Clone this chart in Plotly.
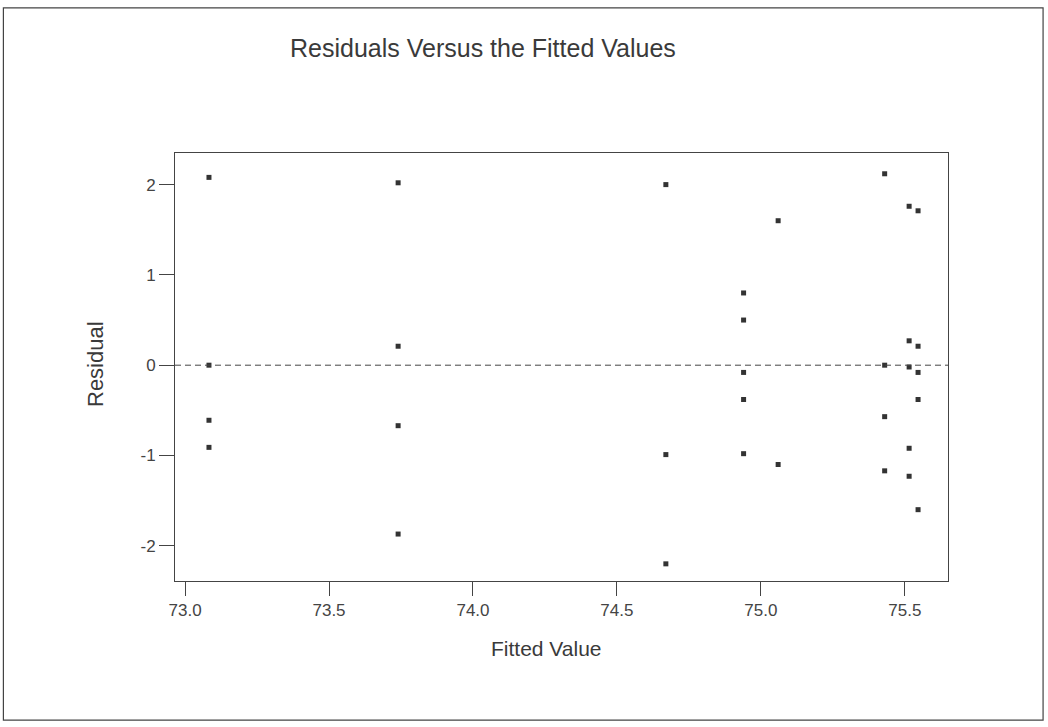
import plotly.graph_objects as go

fitted = [73.083, 73.083, 73.083, 73.083,
          73.74, 73.74, 73.74, 73.74,
          74.67, 74.67, 74.67,
          74.94, 74.94, 74.94, 74.94, 74.94,
          75.06, 75.06,
          75.43, 75.43, 75.43, 75.43,
          75.515, 75.515, 75.515, 75.515, 75.515,
          75.546, 75.546, 75.546, 75.546, 75.546]
residual = [2.08, 0.0, -0.61, -0.91,
            2.02, 0.21, -0.67, -1.87,
            2.0, -0.99, -2.2,
            0.8, 0.5, -0.08, -0.38, -0.98,
            1.6, -1.1,
            2.12, 0.0, -0.57, -1.17,
            1.76, 0.27, -0.02, -0.92, -1.23,
            1.71, 0.21, -0.08, -0.38, -1.6]

x_ticks = [73.0, 73.5, 74.0, 74.5, 75.0, 75.5]
x_labels = ["73.0", "73.5", "74.0", "74.5", "75.0", "75.5"]
y_ticks = [-2, -1, 0, 1, 2]
y_labels = ["-2", "-1", "0", "1", "2"]

FONT = "Liberation Sans, Arial, sans-serif"

fig = go.Figure()
fig.add_trace(go.Scatter(
    x=fitted, y=residual, mode="markers",
    marker=dict(symbol="square", size=5, color="#333333"),
    showlegend=False, hoverinfo="x+y"))

# reference line at zero
fig.add_shape(type="line", xref="paper", yref="y", x0=0, x1=1, y0=0, y1=0,
              line=dict(color="#444444", width=1, dash="6px,4px"))

# outer frame
fig.add_shape(type="rect", xref="paper", yref="paper",
              x0=-0.222, x1=1.123, y0=-0.325, y1=1.339,
              line=dict(color="#444444", width=1.2))

fig.add_annotation(text="Residuals Versus the Fitted Values", xref="paper", yref="paper",
                   x=(483 - 175) / 773, y=(581 - 48) / 428, showarrow=False,
                   xanchor="center", yanchor="middle",
                   font=dict(family=FONT, size=25, color="#3a3a3a"))
fig.add_annotation(text="Fitted Value", xref="paper", yref="paper",
                   x=(546 - 175) / 773, y=(581 - 648) / 428, showarrow=False,
                   xanchor="center", yanchor="middle",
                   font=dict(family=FONT, size=21, color="#3a3a3a"))
fig.add_annotation(text="Residual", xref="paper", yref="paper",
                   x=(95 - 175) / 773, y=(581 - 364) / 428, showarrow=False,
                   xanchor="center", yanchor="middle",
                   textangle=-90,
                   font=dict(family=FONT, size=22, color="#3a3a3a"))

fig.update_xaxes(range=[72.965, 75.65], tickvals=x_ticks, ticktext=x_labels,
                 ticks="outside", ticklen=14, tickcolor="#444444", tickwidth=1,
                 showgrid=False, zeroline=False, showline=True, linecolor="#444444",
                 linewidth=1, mirror=True,
                 tickfont=dict(family=FONT, size=17, color="#444444"))
fig.update_yaxes(range=[-2.39, 2.35], tickvals=y_ticks, ticktext=y_labels,
                 ticks="outside", ticklen=15, tickcolor="#444444", tickwidth=1,
                 showgrid=False, zeroline=False, showline=True, linecolor="#444444",
                 linewidth=1, mirror=True,
                 tickfont=dict(family=FONT, size=17, color="#444444"))

fig.update_layout(width=1048, height=727,
                  margin=dict(l=175, r=100, t=153, b=146),
                  paper_bgcolor="white", plot_bgcolor="white",
                  font=dict(family=FONT, color="#333333"))

fig.write_html("out.html", config={"displayModeBar": False},
               post_script="document.body.style.margin='0';document.body.style.overflow='hidden';")
